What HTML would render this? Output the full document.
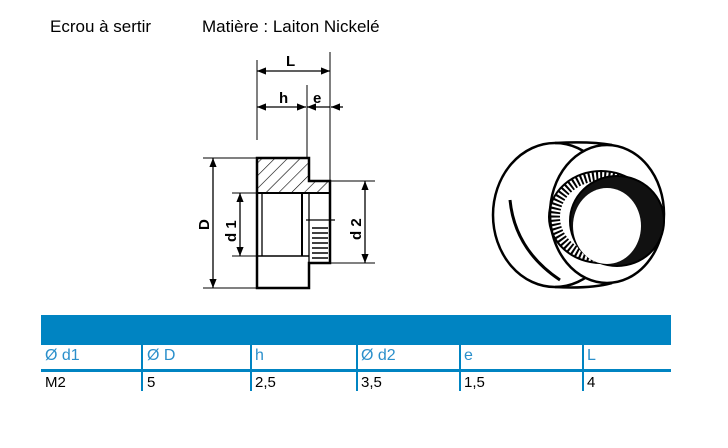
<!DOCTYPE html>
<html><head><style>
body{margin:0;width:728px;height:448px;background:#fff;position:relative;overflow:hidden;font-family:"Liberation Sans",sans-serif}
.t{position:absolute;font-size:17px;color:#000}
.c{position:absolute;font-size:16px}
</style></head><body>
<div class="t" style="left:50px;top:17px">Ecrou à sertir</div>
<div class="t" style="left:202px;top:17px">Matière : Laiton Nickelé</div>
<svg width="728" height="448" style="position:absolute;left:0;top:0">
<defs>
<pattern id="h" width="9" height="9" patternUnits="userSpaceOnUse" patternTransform="rotate(45)"><line x1="0" y1="0" x2="0" y2="9" stroke="#000" stroke-width="1.2"/></pattern>
<marker id="a" viewBox="0 0 10 10" refX="10" refY="5" markerWidth="7" markerHeight="7" orient="auto-start-reverse"><path d="M0,1 L10,5 L0,9z" fill="#000"/></marker>
</defs>
<g stroke="#000" fill="none" stroke-width="1.3">
<rect x="257" y="158" width="52" height="35" fill="url(#h)" stroke="none"/>
<rect x="309" y="181" width="21" height="12" fill="url(#h)" stroke="none"/>
<path d="M257,158 H309 V181 H330 V263 H309 V288 H257 Z" stroke-width="2.5"/>
<line x1="257" y1="193" x2="330" y2="193" stroke-width="2"/>
<line x1="257" y1="256" x2="309" y2="256" stroke-width="1.5"/>
<line x1="262" y1="193" x2="262" y2="256"/>
<line x1="302" y1="193" x2="302" y2="256" stroke-width="2"/>
<line x1="309" y1="193" x2="309" y2="263"/>
<line x1="306" y1="220" x2="335" y2="220"/>
<g stroke-width="1.5"><line x1="312" y1="228" x2="328" y2="228"/><line x1="312" y1="233" x2="328" y2="233"/><line x1="312" y1="238" x2="328" y2="238"/><line x1="312" y1="243" x2="328" y2="243"/><line x1="312" y1="248" x2="328" y2="248"/><line x1="312" y1="253" x2="328" y2="253"/><line x1="312" y1="258" x2="328" y2="258"/></g>
<line x1="257" y1="60" x2="257" y2="140" stroke-width="1"/>
<line x1="330" y1="52" x2="330" y2="181" stroke-width="1"/>
<line x1="307" y1="85" x2="307" y2="158" stroke-width="1"/>
<line x1="257" y1="71" x2="330" y2="71" marker-start="url(#a)" marker-end="url(#a)"/>
<line x1="257" y1="107" x2="306" y2="107" marker-start="url(#a)" marker-end="url(#a)"/>
<line x1="307" y1="107" x2="330" y2="107" marker-start="url(#a)"/>
<line x1="343" y1="107" x2="331" y2="107" marker-end="url(#a)"/>
<line x1="203" y1="158" x2="257" y2="158" stroke-width="1"/>
<line x1="203" y1="288" x2="257" y2="288" stroke-width="1"/>
<line x1="213" y1="158" x2="213" y2="288" marker-start="url(#a)" marker-end="url(#a)"/>
<line x1="232" y1="193" x2="257" y2="193" stroke-width="1"/>
<line x1="232" y1="256" x2="257" y2="256" stroke-width="1"/>
<line x1="240" y1="193" x2="240" y2="256" marker-start="url(#a)" marker-end="url(#a)"/>
<line x1="330" y1="181" x2="375" y2="181" stroke-width="1"/>
<line x1="330" y1="263" x2="375" y2="263" stroke-width="1"/>
<line x1="365" y1="181" x2="365" y2="263" marker-start="url(#a)" marker-end="url(#a)"/>
</g>
<g font-family="Liberation Sans" font-weight="bold" font-size="15" fill="#000">
<text x="286" y="66">L</text><text x="279" y="103">h</text><text x="313" y="103">e</text>
<text transform="translate(209,230) rotate(-90)">D</text>
<text transform="translate(236,242) rotate(-90)">d 1</text>
<text transform="translate(361,240) rotate(-90)">d 2</text>
</g>
<g stroke="#000" fill="none">
<ellipse cx="555" cy="215" rx="62" ry="72" stroke-width="2.5"/>
<path d="M555,143 Q590,141 612,145" stroke-width="2.5"/>
<path d="M555,287 Q590,289 612,283" stroke-width="2.5"/>
<ellipse cx="607" cy="214" rx="57" ry="69" fill="#fff" stroke-width="2.5"/>
<ellipse cx="601" cy="217" rx="52" ry="46" stroke-width="2"/>
<ellipse cx="601" cy="217" rx="46" ry="41" stroke="#000" stroke-width="10" stroke-dasharray="2 2"/>
<ellipse cx="617" cy="221" rx="47" ry="45" fill="#111" stroke-width="2"/>
<ellipse cx="607" cy="226" rx="34" ry="38" fill="#fff" stroke="none"/>
<path d="M510,200 Q515,250 560,280" stroke-width="3"/>
</g>
<rect x="41" y="315" width="630" height="30" fill="#0084c2"/>
<rect x="41" y="369" width="630" height="3" fill="#0084c2"/>
<g fill="#0084c2"><rect x="141" y="345" width="2" height="46"/><rect x="250" y="345" width="2" height="46"/><rect x="356" y="345" width="2" height="46"/><rect x="459" y="345" width="2" height="46"/><rect x="582" y="345" width="2" height="46"/></g>
</svg>
<div class="c" style="left:45px;top:347px;color:#2a8fcb">Ø d1</div>
<div class="c" style="left:147px;top:347px;color:#2a8fcb">Ø D</div>
<div class="c" style="left:255px;top:347px;color:#2a8fcb">h</div>
<div class="c" style="left:361px;top:347px;color:#2a8fcb">Ø d2</div>
<div class="c" style="left:464px;top:347px;color:#2a8fcb">e</div>
<div class="c" style="left:587px;top:347px;color:#2a8fcb">L</div>
<div class="c" style="left:45px;top:374px;font-size:15px">M2</div>
<div class="c" style="left:147px;top:374px;font-size:15px">5</div>
<div class="c" style="left:255px;top:374px;font-size:15px">2,5</div>
<div class="c" style="left:361px;top:374px;font-size:15px">3,5</div>
<div class="c" style="left:464px;top:374px;font-size:15px">1,5</div>
<div class="c" style="left:587px;top:374px;font-size:15px">4</div>
</body></html>
